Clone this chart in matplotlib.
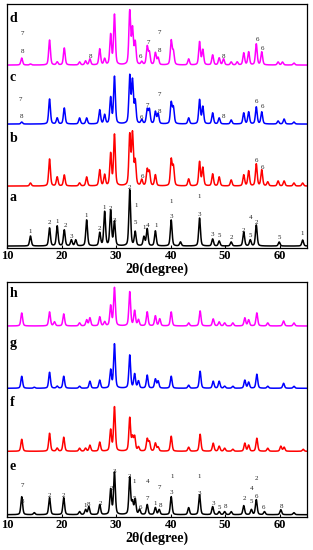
import numpy as np
import matplotlib
matplotlib.use("Agg")
import matplotlib.pyplot as plt

plt.rcParams['font.family'] = ['Liberation Serif', 'DejaVu Serif']

# ---------------- data (2theta in degree, intensity in a.u.) ----------------
pos_a = [14.3, 17.8, 19.2, 20.5, 21.8, 22.6, 24.6, 27.0, 27.9, 29.0, 29.7, 32.5, 33.5,
         35.1, 35.7, 37.2, 40.1, 41.8, 45.3, 47.7, 48.9, 51.1, 53.4, 54.6, 55.7, 59.9, 64.2]
int_a = [10, 18, 20, 16, 6, 6, 26, 13, 34, 35, 24, 56, 14,
         9, 17, 15, 26, 4, 28, 7, 5, 4, 14, 6, 21, 4, 6]

pos_b = [14.3, 17.8, 19.2, 20.5, 23.3, 24.6, 27.0, 27.9, 29.0, 29.7, 32.5, 33.0, 33.5, 34.7,
         35.7, 36.1, 37.2, 40.1, 40.5, 43.3, 45.3, 45.9, 47.7, 48.9, 51.1, 53.4, 54.3, 55.7,
         56.7, 57.8, 59.7, 60.8, 62.6, 64.2]
int_b = [3, 27, 9, 11, 3, 9, 16, 11, 32, 51, 50, 51, 24, 6,
         16, 14, 11, 26, 19, 7, 24, 18, 12, 9, 6, 11, 15, 22,
         16, 4, 5, 5, 3, 3]

pos_c = [12.7, 17.8, 19.2, 20.5, 23.3, 24.6, 27.0, 27.9, 29.0, 29.7, 32.5, 33.0, 33.5, 34.7,
         35.7, 36.1, 37.2, 37.7, 40.1, 40.5, 43.3, 45.3, 45.9, 47.7, 48.9, 51.1, 53.4, 54.3,
         55.7, 56.7, 59.7, 60.8, 62.6]
int_c = [2, 25, 6, 16, 6, 6, 14, 9, 26, 47, 47, 42, 22, 4,
         14, 14, 12, 10, 21, 16, 6, 24, 17, 11, 6, 4, 11, 12,
         17, 12, 3, 5, 2]

pos_d = [12.7, 14.3, 17.8, 19.2, 20.5, 23.3, 24.4, 25.2, 27.0, 27.9, 29.0, 29.7, 32.5, 33.0,
         33.5, 34.7, 35.7, 36.1, 37.2, 37.7, 40.1, 40.5, 43.3, 45.3, 45.9, 47.7, 48.9, 49.7,
         51.1, 52.2, 53.4, 54.3, 55.7, 56.7, 59.7, 60.5, 62.6]
int_d = [7, 1, 25, 3, 17, 3, 4, 6, 16, 6, 30, 50, 53, 35,
         22, 3, 18, 12, 12, 7, 24, 13, 6, 23, 15, 10, 7, 6,
         3, 3, 12, 13, 21, 13, 3, 3, 2]

pos_e = [12.7, 15.0, 17.8, 20.4, 23.3, 24.4, 25.0, 27.0, 29.0, 29.7, 32.5, 33.0, 33.5, 34.3,
         35.7, 37.2, 37.9, 40.1, 43.3, 45.3, 47.7, 48.9, 49.9, 51.1, 53.4, 54.8, 55.7, 57.2,
         60.2, 62.6]
int_e = [18, 2, 17, 17, 3, 5, 8, 10, 25, 42, 37, 12, 15, 5,
         10, 7, 5, 18, 7, 20, 8, 3, 3, 3, 9, 5, 15, 3,
         5, 2]

pos_f = [12.7, 17.8, 19.2, 20.4, 23.3, 24.4, 25.2, 27.0, 29.0, 29.7, 32.5, 33.0, 33.4, 34.1,
         35.7, 36.1, 37.2, 37.7, 40.1, 43.3, 45.4, 47.8, 48.9, 49.9, 51.4, 53.6, 54.3, 55.8,
         57.8, 60.2, 60.8, 64.3]
int_f = [12, 18, 3, 14, 3, 3, 6, 9, 21, 44, 33, 13, 14, 4,
         12, 9, 8, 4, 15, 4, 17, 8, 5, 3, 2, 8, 6, 13,
         3, 5, 4, 2]

pos_g = [12.7, 15.0, 17.8, 19.2, 20.4, 23.3, 25.2, 27.0, 29.0, 29.7, 32.5, 33.4, 34.1, 35.7,
         37.2, 37.7, 40.1, 43.3, 45.4, 47.8, 48.9, 49.9, 51.4, 53.6, 54.3, 55.8, 57.8, 60.7,
         62.6]
int_g = [12, 1, 16, 2, 12, 2, 7, 8, 18, 44, 33, 14, 7, 13,
         9, 7, 12, 3, 17, 7, 7, 2, 2, 8, 6, 14, 2, 5,
         2]

pos_h = [12.7, 17.8, 18.7, 20.4, 23.3, 24.6, 25.2, 27.0, 27.9, 29.0, 29.7, 32.5, 33.4, 34.1,
         35.7, 37.2, 38.0, 40.1, 43.3, 45.4, 47.8, 48.9, 49.9, 51.4, 53.6, 54.3, 55.8, 57.8,
         60.7, 62.6]
int_h = [13, 14, 4, 12, 3, 6, 8, 9, 4, 20, 38, 34, 15, 6,
         14, 10, 7, 14, 3, 15, 7, 4, 3, 3, 8, 6, 13, 3,
         5, 3]

# peak-phase labels: (2theta, height, text)
lab_a = [(14.3, 17, '1'), (17.7, 25.3, '2'), (19.2, 27, '1'), (20.7, 23, '2'), (21.8, 11.3, '3'),
         (24.6, 33, '1'), (27.0, 19.7, '2'), (27.9, 40.3, '1'), (29.0, 39.7, '2'), (29.7, 27.3, '3'),
         (32.5, 60.3, '2'), (33.6, 43, '1'), (33.6, 25.7, '5'), (35.1, 20.3, '1'), (35.7, 23, '4'),
         (37.3, 23, '1'), (40.1, 47, '1'), (40.1, 31.3, '3'), (45.2, 51.3, '1'), (45.2, 33.7, '3'),
         (47.7, 14, '3'), (48.9, 12.3, '5'), (51.1, 10.7, '2'), (53.4, 18, '2'), (54.6, 30.3, '4'),
         (54.6, 13, '5'), (55.7, 25.3, '2'), (59.9, 10.7, '5'), (64.2, 14.7, '1')]
lab_b = [(34.8, 71.3, '6'), (55.7, 88, '6'), (56.9, 80.3, '6')]
lab_c = [(12.5, 148.7, '7'), (12.6, 131.3, '8'), (34.6, 130.7, '6'), (35.8, 143, '7'),
         (37.9, 153.7, '7'), (37.9, 137, '8'), (49.7, 131.3, '8'), (55.7, 146.3, '6'),
         (56.9, 141.3, '6')]
lab_d = [(12.8, 214.7, '7'), (12.8, 196.3, '8'), (25.3, 191.3, '8'), (34.5, 191.3, '6'),
         (35.9, 205.3, '7'), (38.0, 215.3, '7'), (38.0, 197.3, '8'), (49.7, 191.3, '8'),
         (55.9, 208.7, '6'), (56.9, 199.7, '6')]
lab_e = [(12.8, 31.7, '7'), (12.8, 15, '8'), (17.7, 21.7, '2'), (20.4, 21.3, '2'), (24.3, 11.7, '1'),
         (25.0, 12.3, '8'), (27.2, 13, '2'), (29.1, 28.3, '2'), (29.7, 45.7, '3'), (32.5, 40.7, '2'),
         (33.4, 35, '1'), (33.4, 18, '5'), (34.4, 9, '6'), (35.8, 35, '4'), (35.8, 18.3, '7'),
         (38.0, 29.7, '7'), (37.1, 13, '1'), (38.2, 11.7, '8'), (40.2, 40.7, '1'), (40.2, 24, '3'),
         (45.3, 40, '1'), (45.3, 23.3, '3'), (47.8, 13, '3'), (49.0, 9, '5'), (50.0, 10, '8'),
         (53.6, 18, '2'), (54.8, 28, '4'), (54.8, 15, '5'), (55.8, 38, '2'), (55.8, 20.3, '6'),
         (57.1, 9, '6'), (60.3, 10, '8')]

# layout: trace baselines and panel letters
base_top = {'a': 2, 'b': 62, 'c': 124, 'd': 183}
base_bot = {'e': 2.3, 'f': 65.7, 'g': 128.7, 'h': 191}
letter_top = {'a': 51, 'b': 110, 'c': 171, 'd': 230}
letter_bot = {'e': 50, 'f': 114, 'g': 173.7, 'h': 223.7}

colors = {'a': 'black', 'b': '#ff0000', 'c': '#0000ff', 'd': '#ff00ff',
          'e': 'black', 'f': '#ff0000', 'g': '#0000ff', 'h': '#ff00ff'}

series = {'a': (pos_a, int_a), 'b': (pos_b, int_b), 'c': (pos_c, int_c), 'd': (pos_d, int_d),
          'e': (pos_e, int_e), 'f': (pos_f, int_f), 'g': (pos_g, int_g), 'h': (pos_h, int_h)}
labels = {'a': lab_a, 'b': lab_b, 'c': lab_c, 'd': lab_d, 'e': lab_e}

tt = np.linspace(10, 65, 2751)


def profile(pos, inten, w=0.19):
    y = np.zeros_like(tt)
    for p, h in zip(pos, inten):
        lor = 1.0 / (1.0 + ((tt - p) / w) ** 2)
        gau = np.exp(-np.log(2) * ((tt - p) / w) ** 2)
        y += h * (0.4 * lor + 0.6 * gau)
    return y


fig = plt.figure(figsize=(3.13, 5.5), dpi=100)
ax1 = fig.add_axes([0.0224, 0.549, 0.9585, 0.4436])
ax2 = fig.add_axes([0.0224, 0.060, 0.9585, 0.4273])


def draw(ax, keys, bases, letters, ylim):
    for k in keys:
        pos, inten = series[k]
        ax.plot(tt, bases[k] + profile(pos, inten), color=colors[k], lw=1.1)
        ax.text(10.45, letters[k], k, fontsize=10, fontweight='bold', ha='left', va='center')
        for (x, yy, t) in labels.get(k, []):
            ax.text(x, yy, t, fontsize=5, ha='center', va='center', color='#222222')
    ax.set_xlim(10, 65)
    ax.set_ylim(*ylim)
    ax.set_yticks([])
    ax.set_xticks([10, 20, 30, 40, 50, 60])
    ax.tick_params(axis='x', direction='in', length=2, width=0.8, pad=1.5, labelsize=9)
    for lab in ax.get_xticklabels():
        lab.set_fontweight('bold')
    for s in ax.spines.values():
        s.set_linewidth(0.9)
    ax.set_xlabel('2θ(degree)', fontsize=10, fontweight='bold', labelpad=0.5)


draw(ax1, ['a', 'b', 'c', 'd'], base_top, letter_top, (0, 244))
draw(ax2, ['e', 'f', 'g', 'h'], base_bot, letter_bot, (0, 235))

fig.savefig('out.png', dpi=100)
